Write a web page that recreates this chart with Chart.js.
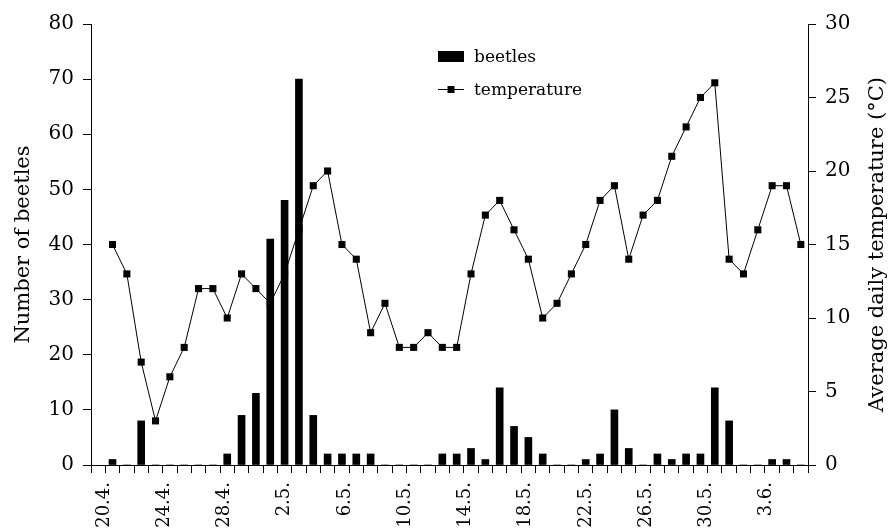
<!DOCTYPE html>
<html><head><meta charset="utf-8">
<script src="https://cdn.jsdelivr.net/npm/chart.js@4/dist/chart.umd.min.js"></script>
<style>html,body{margin:0;padding:0;background:#fff}#wrap{width:890px;height:529px}</style>
</head><body><div id="wrap"><canvas id="c" width="890" height="529"></canvas></div>
<script>
// ---- data ----
const days = ['19.4.','20.4.','21.4.','22.4.','23.4.','24.4.','25.4.','26.4.','27.4.','28.4.','29.4.','30.4.',
  '1.5.','2.5.','3.5.','4.5.','5.5.','6.5.','7.5.','8.5.','9.5.','10.5.','11.5.','12.5.','13.5.','14.5.','15.5.',
  '16.5.','17.5.','18.5.','19.5.','20.5.','21.5.','22.5.','23.5.','24.5.','25.5.','26.5.','27.5.','28.5.','29.5.',
  '30.5.','31.5.','1.6.','2.6.','3.6.','4.6.','5.6.','6.6.','7.6.'];
const beetles = [null,1,0,8,0,0,0,0,0,2,9,13,41,48,70,9,2,2,2,2,0,0,0,0,2,2,3,1,14,7,5,2,0,0,1,2,10,3,0,2,1,2,2,14,8,0,0,1,1,0];
const temperature = [null,15,13,7,3,6,8,12,12,10,13,12,11,13,16,19,20,15,14,9,11,8,8,9,8,8,13,17,18,16,14,10,11,13,15,18,19,14,17,18,21,23,25,26,14,13,16,19,19,15];
const tickLabels = ['20.4.','24.4.','28.4.','2.5.','6.5.','10.5.','14.5.','18.5.','22.5.','26.5.','30.5.','3.6.'];
const seriesNames = ['beetles','temperature'];
const leftTitle = 'Number of beetles';
const rightTitle = 'Average daily temperature (°C)';

const FAM = "'DejaVu Serif', serif";

const legendPlugin = {
  id: 'customLegend',
  afterDraw(chart) {
    const ctx = chart.ctx;
    const ds = chart.data.datasets;
    const barDs = ds.find(d => d.type === 'bar');
    const lineDs = ds.find(d => d.type === 'line');
    ctx.save();
    ctx.fillStyle = '#000'; ctx.strokeStyle = '#000';
    ctx.font = '17px ' + FAM; ctx.textAlign = 'left'; ctx.textBaseline = 'alphabetic';
    ctx.fillRect(438, 51, 26, 11);
    ctx.fillText(barDs.label, 474, 61.5);
    ctx.beginPath(); ctx.lineWidth = 1; ctx.moveTo(438, 89.5); ctx.lineTo(464, 89.5); ctx.stroke();
    ctx.fillRect(447.5, 86, 7, 7);
    ctx.fillText(lineDs.label, 474, 95);
    ctx.restore();
  }
};
const rightTitlePlugin = {
  id: 'rightTitle',
  afterDraw(chart) {
    const ctx = chart.ctx; const a = chart.chartArea;
    ctx.save();
    ctx.translate(878, (a.top + a.bottom) / 2);
    ctx.rotate(-Math.PI / 2);
    ctx.font = '21px ' + FAM; ctx.fillStyle = '#000';
    ctx.textAlign = 'center'; ctx.textBaseline = 'middle';
    ctx.fillText(rightTitle, 0, 0);
    ctx.restore();
  }
};

new Chart(document.getElementById('c'), {
  data: {
    labels: days,
    datasets: [
      { type: 'bar', label: seriesNames[0], data: beetles, xAxisID: 'x', yAxisID: 'y',
        backgroundColor: '#000', borderWidth: 0, barThickness: 7, order: 2 },
      { type: 'line', label: seriesNames[1], data: temperature, xAxisID: 'x', yAxisID: 'y1',
        borderColor: '#000', borderWidth: 1, backgroundColor: '#000', pointStyle: 'rect',
        pointRadius: 5, pointBorderWidth: 0, pointBackgroundColor: '#000', tension: 0, order: 1, clip: false }
    ]
  },
  options: {
    responsive: false, animation: false, devicePixelRatio: 1,
    layout: { padding: { top: 24, right: 0, bottom: 0, left: 0 } },
    plugins: { legend: { display: false }, tooltip: { enabled: false } },
    scales: {
      x: { type: 'category', position: 'bottom', weight: 0, offset: true,
        grid: { offset: true, drawOnChartArea: false, drawTicks: true, tickLength: 8, color: '#000', lineWidth: 1 },
        border: { display: true, color: '#000', width: 1 },
        ticks: { display: false, autoSkip: false },
        afterFit: s => { s.height = 8; } },
      xl: { type: 'linear', position: 'bottom', weight: 1, min: -0.86, max: 46.75,
        grid: { display: false, drawTicks: false }, border: { display: false },
        afterBuildTicks: s => { s.ticks = tickLabels.map((t, i) => ({ value: i * 4 })); },
        ticks: { autoSkip: false, minRotation: 90, maxRotation: 90, padding: 9, color: '#000',
          font: { family: FAM, size: 18 }, callback: (v, i) => tickLabels[i] },
        afterFit: s => { s.height = 56; } },
      y: { position: 'left', min: 0, max: 80,
        ticks: { stepSize: 10, padding: 9, color: '#000', font: { family: FAM, size: 20 } },
        grid: { drawOnChartArea: false, tickLength: 8, color: '#000' },
        border: { color: '#000' },
        title: { display: true, text: leftTitle, color: '#000', font: { family: FAM, size: 21 }, padding: { top: 11, bottom: 0 } },
        afterFit: s => { s.width = 91; } },
      y1: { position: 'right', min: 0, max: 30,
        ticks: { stepSize: 5, padding: 9, color: '#000', font: { family: FAM, size: 20 } },
        grid: { drawOnChartArea: false, tickLength: 8, color: '#000' },
        border: { color: '#000' },
        afterFit: s => { s.width = 82; } }
    }
  },
  plugins: [legendPlugin, rightTitlePlugin]
});
</script></body></html>
